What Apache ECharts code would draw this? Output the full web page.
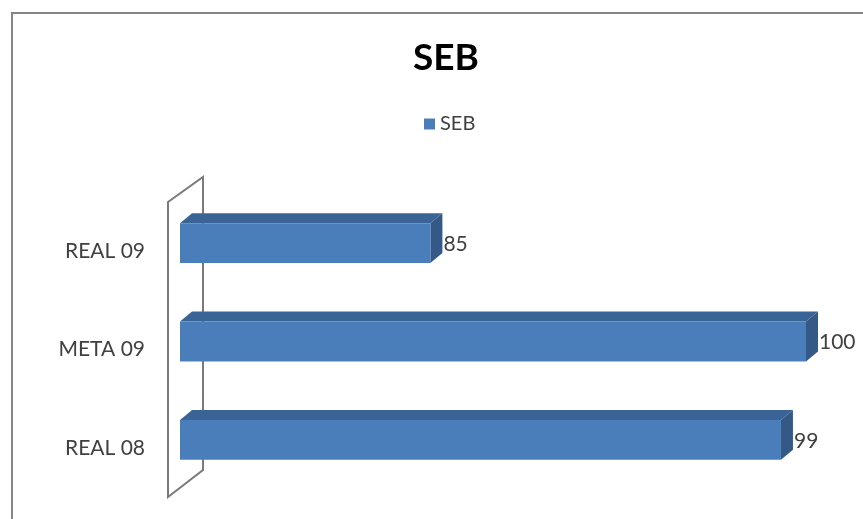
<!DOCTYPE html>
<html>
<head>
<meta charset="utf-8">
<script src="https://cdn.jsdelivr.net/npm/echarts@6/dist/echarts.min.js"></script>
<style>
html,body{margin:0;padding:0;background:#fff;}
#c{width:863px;height:519px;}
</style>
</head>
<body>
<div id="c"></div>
<script>
var categories = ['REAL 08', 'META 09', 'REAL 09'];
var values = [99, 100, 85];
var seriesName = 'SEB';
var titleText = 'SEB';

var chart = echarts.init(document.getElementById('c'), null, {renderer: 'canvas'});

var FRONT = '#4A7EBB';
var TOP = '#3B6496';
var SIDE = '#345987';
var DX = 12, DY = -10;

var data = values.map(function (v, i) { return [v, i]; });

var option = {
  backgroundColor: '#ffffff',
  animation: false,
  title: {
    text: titleText,
    left: 408,
    top: 35,
    textStyle: {fontFamily: 'Lato', fontWeight: 'bold', fontSize: 37, color: '#000'}
  },
  legend: {
    data: [seriesName],
    left: 419,
    top: 109,
    icon: 'rect',
    itemWidth: 11,
    itemHeight: 11,
    itemGap: 4,
    textStyle: {fontFamily: 'Lato', fontSize: 20, color: '#404040'}
  },
  grid: {left: 180, right: 57, top: 202, bottom: 22, containLabel: false},
  xAxis: {
    type: 'value', min: 75, max: 100, show: false
  },
  yAxis: {
    type: 'category',
    data: categories,
    axisLine: {show: false},
    axisTick: {show: false},
    splitLine: {show: false},
    axisLabel: {margin: 35, fontFamily: 'Lato', fontSize: 21, color: '#404040'}
  },
  graphic: [
    {
      type: 'rect', silent: true, z: 0,
      shape: {x: 12, y: 13, width: 900, height: 600},
      style: {fill: null, stroke: '#858585', lineWidth: 2}
    },
    {
      type: 'polygon', silent: true, z: 1,
      shape: {points: [[168, 202], [203, 177], [203, 470], [168, 497]]},
      style: {fill: null, stroke: '#7a7a7a', lineWidth: 2}
    }
  ],
  series: [{
    name: seriesName,
    type: 'custom',
    itemStyle: {color: FRONT},
    encode: {x: 0, y: 1},
    data: data,
    z: 5,
    renderItem: function (params, api) {
      var v = api.value(0);
      var idx = api.value(1);
      var p0 = api.coord([75, idx]);
      var p1 = api.coord([v, idx]);
      var band = api.size([0, 1])[1];
      var h = band * 0.405;
      var cy = p0[1] - 8;
      var x0 = p0[0], x1 = p1[0];
      var y0 = cy - h / 2, y1 = cy + h / 2;
      return {
        type: 'group',
        children: [
          {type: 'polygon', shape: {points: [[x0, y0], [x0 + DX, y0 + DY], [x1 + DX, y0 + DY], [x1, y0]]}, style: {fill: TOP}},
          {type: 'polygon', shape: {points: [[x1, y0], [x1 + DX, y0 + DY], [x1 + DX, y1 + DY], [x1, y1]]}, style: {fill: SIDE}},
          {type: 'rect', shape: {x: x0, y: y0, width: x1 - x0, height: y1 - y0}, style: {fill: FRONT}},
          {type: 'text', style: {text: String(v), x: x1 + DX + 1, y: cy + 1, textVerticalAlign: 'middle', textAlign: 'left', fontFamily: 'Lato', fontSize: 21, fill: '#404040'}}
        ]
      };
    }
  }]
};
chart.setOption(option);
</script>
</body>
</html>
